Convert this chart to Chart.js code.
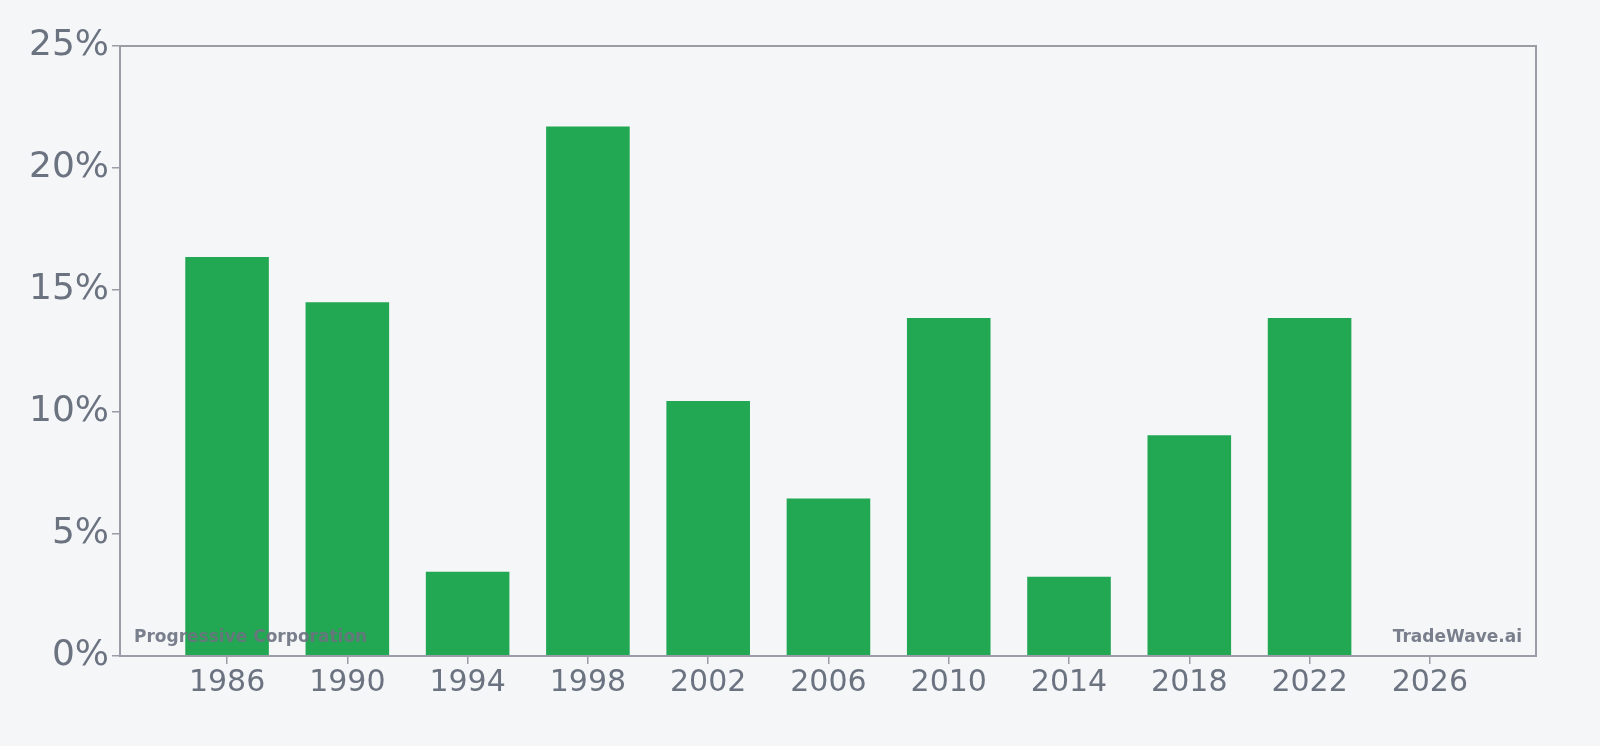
<!DOCTYPE html>
<html>
<head>
<meta charset="utf-8">
<script src="https://cdn.jsdelivr.net/npm/chart.js@4"></script>
<style>
  html, body { margin: 0; padding: 0; background: #f5f6f8; }
  #wrap { width: 1600px; height: 746px; }
</style>
</head>
<body>
<div id="wrap"><canvas id="chart"></canvas></div>
<script>
const years = [1986, 1990, 1994, 1998, 2002, 2006, 2010, 2014, 2018, 2022, 2026]
const returns = [16.35, 14.5, 3.45, 21.7, 10.45, 6.45, 13.85, 3.25, 9.05, 13.85, null]
const yTicks = [0, 5, 10, 15, 20, 25]

const axisColor = '#9a9ca6'
const textColor = '#6b7280'

// full frame round the plot area + the two corner captions
const framePlugin = {
  id: 'frame',
  afterDatasetsDraw(chart) {
    const { ctx, chartArea: a } = chart
    ctx.save()
    ctx.font = 'bold 17px "DejaVu Sans"'
    ctx.fillStyle = 'rgba(107,114,128,0.9)'
    ctx.textBaseline = 'alphabetic'
    ctx.textAlign = 'left'
    ctx.fillText('Progressive Corporation', a.left + 14, a.bottom - 14)
    ctx.textAlign = 'right'
    ctx.fillText('TradeWave.ai', a.right - 14, a.bottom - 14)
    ctx.strokeStyle = axisColor
    ctx.lineWidth = 2
    ctx.strokeRect(a.left, a.top, a.right - a.left, a.bottom - a.top)
    ctx.restore()
  },
}

const points = years
  .map((y, i) => ({ x: y, y: returns[i] }))
  .filter((p) => p.y !== null)

new Chart(document.getElementById('chart'), {
  type: 'bar',
  data: {
    datasets: [{
      data: points,
      backgroundColor: '#22a753',
      barPercentage: 0.695,
      categoryPercentage: 1,
    }],
  },
  options: {
    responsive: true,
    maintainAspectRatio: false,
    animation: false,
    devicePixelRatio: 1,
    layout: { padding: { left: 26, right: 64, top: 46, bottom: 44 } },
    plugins: { legend: { display: false }, tooltip: { enabled: false } },
    scales: {
      x: {
        type: 'linear',
        min: 1982.44,
        max: 2029.53,
        offset: false,
        afterBuildTicks(scale) { scale.ticks = years.map((v) => ({ value: v })) },
        grid: { display: true, drawOnChartArea: false, offset: false, color: axisColor, tickLength: 8, lineWidth: 1.5 },
        border: { color: axisColor, width: 2 },
        ticks: {
          color: textColor,
          font: { family: 'DejaVu Sans', size: 30 },
          padding: 1,
          maxRotation: 0,
          callback: (v) => String(v),
        },
      },
      y: {
        min: 0,
        max: 25,
        afterBuildTicks(scale) { scale.ticks = yTicks.map((v) => ({ value: v })) },
        grid: { display: true, drawOnChartArea: false, color: axisColor, tickLength: 8, lineWidth: 1.5 },
        border: { color: axisColor, width: 2 },
        ticks: {
          color: textColor,
          font: { family: 'DejaVu Sans', size: 36 },
          padding: 3,
          callback: (v) => v + '%',
        },
      },
    },
  },
  plugins: [framePlugin],
})
</script>
</body>
</html>
